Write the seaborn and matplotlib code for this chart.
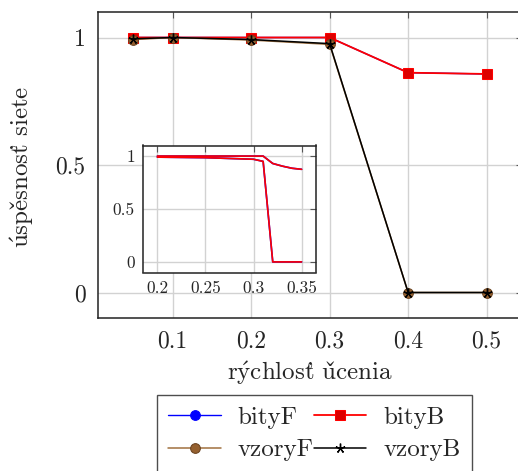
import numpy as np
import pandas as pd
import matplotlib
matplotlib.use("Agg")
import matplotlib.pyplot as plt
import seaborn as sns

# ---- data ----
x = [0.05, 0.1, 0.2, 0.3, 0.4, 0.5]
bityF = [1.0, 1.0, 1.0, 1.0, 0.862, 0.857]
bityB = [1.0, 1.0, 1.0, 1.0, 0.862, 0.857]
vzoryF = [0.992, 1.0, 0.99, 0.973, 0.0, 0.0]
vzoryB = [0.995, 1.0, 0.992, 0.976, 0.0, 0.0]

inset_x = [0.2, 0.25, 0.3, 0.31, 0.32, 0.33, 0.34, 0.35]
inset_upper = [1.0, 1.0, 1.0, 1.0, 0.93, 0.905, 0.885, 0.875]
inset_lower = [0.99, 0.985, 0.97, 0.95, 0.0, 0.0, 0.0, 0.0]

xticks = [0.1, 0.2, 0.3, 0.4, 0.5]
yticks = [0, 0.5, 1]
inset_xticks = [0.2, 0.25, 0.3, 0.35]

xlabel = r"r$\mathrm{\acute{y}}$chlos$\mathrm{t\!\!}$' u$\mathrm{\check{c}}$enia"
ylabel = r"$\mathrm{\acute{u}}$spe$\mathrm{\check{s}}$nos$\mathrm{t\!\!}$' siete"

sns.set_theme(style="white")
plt.rcParams["font.family"] = ["cmr10", "DejaVu Serif"]
plt.rcParams["axes.formatter.use_mathtext"] = True
plt.rcParams["mathtext.fontset"] = "cm"

BLUE = "#0000ff"
RED = "#ff0000"
BROWN = "#a0703e"
BROWN_FACE = "#95602f"
GRID = "#d2d2d2"
FS = 17
LFS = 18

fig = plt.figure(figsize=(5.18, 4.71), dpi=100)
ax = fig.add_axes([98 / 518, 1 - 318 / 471, 424 / 518, 306 / 471])

df = pd.DataFrame({"x": x, "bityF": bityF, "bityB": bityB, "vzoryF": vzoryF, "vzoryB": vzoryB})

sns.lineplot(data=df, x="x", y="bityF", ax=ax, color=BLUE, lw=1.0, marker="o",
             markersize=7, markeredgecolor=BLUE, markerfacecolor=BLUE, label="bityF",
             estimator=None, sort=False)
sns.lineplot(data=df, x="x", y="bityB", ax=ax, color=RED, lw=1.3, marker="s",
             markersize=7.5, markeredgecolor=RED, markerfacecolor="#dd0000", label="bityB",
             estimator=None, sort=False)
sns.lineplot(data=df, x="x", y="vzoryF", ax=ax, color=BROWN, lw=1.1, marker="o",
             markersize=7, markeredgecolor="#6b4320", markerfacecolor=BROWN_FACE,
             label="vzoryF", estimator=None, sort=False)
sns.lineplot(data=df, x="x", y="vzoryB", ax=ax, color="black", lw=1.1, marker=(5, 2, 0),
             markersize=7, markeredgecolor="black", markeredgewidth=1.0, label="vzoryB",
             estimator=None, sort=False)

ax.set_xlim(0.005, 0.545)
ax.set_ylim(-0.1, 1.1)
ax.set_xticks(xticks)
ax.set_xticklabels([f"{t:g}" for t in xticks])
ax.set_yticks(yticks)
ax.set_yticklabels([f"{t:g}" for t in yticks])
ax.grid(True, color=GRID, lw=1.0)
ax.tick_params(direction="in", length=4, width=0.8, color="#555555",
               top=True, right=True, labelsize=FS, pad=9)
for s in ax.spines.values():
    s.set_color("#222222")
    s.set_linewidth(1.1)
ax.set_xlabel(xlabel, fontsize=LFS, labelpad=5)
ax.set_ylabel(ylabel, fontsize=LFS)
ax.yaxis.set_label_coords((8 - 98) / 424, 0.5 - 2 / 306)
ax.yaxis.label.set_va("top")

handles, labels = ax.get_legend_handles_labels()
ax.get_legend().remove()
order = [0, 2, 1, 3]  # row-major: bityF bityB / vzoryF vzoryB
leg = fig.legend([handles[i] for i in order], [labels[i] for i in order],
                 ncol=2, loc="upper left",
                 bbox_to_anchor=(157 / 518, 1 - 395 / 471), borderaxespad=0,
                 fontsize=LFS, frameon=True, fancybox=False, edgecolor="#222222",
                 handlelength=2.1, handletextpad=0.68, columnspacing=0.0,
                 labelspacing=0.4, borderpad=0.45)
leg.get_frame().set_linewidth(1.0)

# ---- inset ----
axin = fig.add_axes([143 / 518, 1 - 272.5 / 471, 173 / 518, 127 / 471])
dfi = pd.DataFrame({"x": inset_x, "upper": inset_upper, "lower": inset_lower})
for col in ["upper", "lower"]:
    sns.lineplot(data=dfi, x="x", y=col, ax=axin, color=BLUE, lw=1.2,
                 estimator=None, sort=False)
for col in ["upper", "lower"]:
    sns.lineplot(data=dfi, x="x", y=col, ax=axin, color=RED, lw=1.2,
                 estimator=None, sort=False)
axin.set_xlim(0.185, 0.365)
axin.set_ylim(-0.1, 1.1)
axin.set_xticks(inset_xticks)
axin.set_xticklabels([f"{t:g}" for t in inset_xticks])
axin.set_yticks(yticks)
axin.set_yticklabels([f"{t:g}" for t in yticks])
axin.set_xlabel("")
axin.set_ylabel("")
axin.grid(True, color=GRID, lw=1.0)
axin.tick_params(direction="in", length=4, width=0.8, color="#555555",
                 top=True, right=True, labelsize=12.5, pad=6)
for s in axin.spines.values():
    s.set_color("#222222")
    s.set_linewidth(1.1)
axin.set_facecolor("white")

fig.savefig("out.png", dpi=100)
